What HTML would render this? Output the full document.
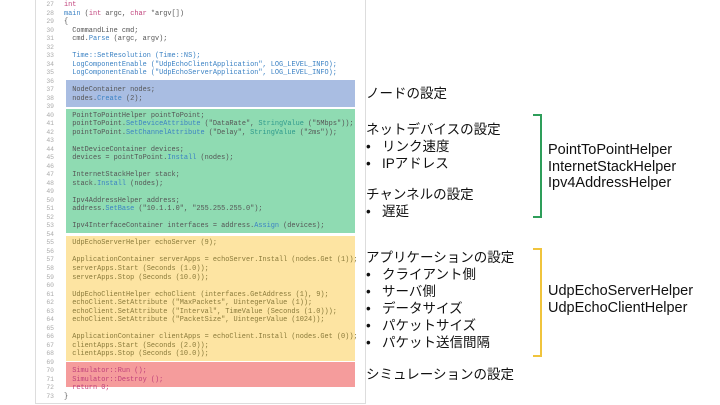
<!DOCTYPE html>
<html><head><meta charset="utf-8"><style>
body{margin:0;width:720px;height:405px;background:#fff;position:relative;overflow:hidden;font-family:"Liberation Sans","Noto Sans CJK JP",sans-serif}
.panel{position:absolute;left:35px;top:-2px;width:329px;height:404px;border:1px solid #ddd;background:#fff}
.box{position:absolute;left:66px;width:289px}
pre{position:absolute;margin:0;font-family:"Liberation Mono",monospace;font-size:6.9px;line-height:8.52px;color:#555;top:1px}
.ln{left:36px;width:18px;text-align:right;color:#aaa;font-size:6.4px}
.cd{left:64px}
.k{color:#c0407a}.m{color:#3b82c4}.t{color:#2e9a8c}.s{color:#8a7a3a}
.j{position:absolute;left:366px;font-size:13.5px;color:#111;white-space:nowrap;line-height:17px}
.h{position:absolute;left:548px;font-size:14.5px;color:#111;line-height:16.5px;white-space:nowrap}
.br{position:absolute;left:533px;width:7px;border:2px solid;border-left:none}
</style></head><body>
<div class="panel"></div>
<div class="box" style="top:80px;height:27px;background:#a9bde2"></div>
<div class="box" style="top:109px;height:124px;background:#8fdbb2"></div>
<div class="box" style="top:236px;height:125px;background:#fde4a2"></div>
<div class="box" style="top:362px;height:25px;background:#f59c9c"></div>
<pre class="ln">27
28
29
30
31
32
33
34
35
36
37
38
39
40
41
42
43
44
45
46
47
48
49
50
51
52
53
54
55
56
57
58
59
60
61
62
63
64
65
66
67
68
69
70
71
72
73</pre>
<pre class="cd"><span class="k">int</span>
<span class="m">main</span> (<span class="k">int</span> argc, <span class="k">char</span> *argv[])
{
  CommandLine cmd;
  cmd.<span class="m">Parse</span> (argc, argv);

  <span class="m">Time::SetResolution (Time::NS);</span>
  <span class="m">LogComponentEnable ("UdpEchoClientApplication", LOG_LEVEL_INFO);</span>
  <span class="m">LogComponentEnable ("UdpEchoServerApplication", LOG_LEVEL_INFO);</span>

  NodeContainer nodes;
  nodes.<span class="m">Create</span> (2);

  PointToPointHelper pointToPoint;
  pointToPoint.<span class="m">SetDeviceAttribute</span> ("DataRate", <span class="t">StringValue</span> ("5Mbps"));
  pointToPoint.<span class="m">SetChannelAttribute</span> ("Delay", <span class="t">StringValue</span> ("2ms"));

  NetDeviceContainer devices;
  devices = pointToPoint.<span class="m">Install</span> (nodes);

  InternetStackHelper stack;
  stack.<span class="m">Install</span> (nodes);

  Ipv4AddressHelper address;
  address.<span class="m">SetBase</span> ("10.1.1.0", "255.255.255.0");

  Ipv4InterfaceContainer interfaces = address.<span class="m">Assign</span> (devices);

  <span class="s">UdpEchoServerHelper echoServer (9);</span>
<span class="s">
  ApplicationContainer serverApps = echoServer.Install (nodes.Get (1));
  serverApps.Start (Seconds (1.0));
  serverApps.Stop (Seconds (10.0));

  UdpEchoClientHelper echoClient (interfaces.GetAddress (1), 9);
  echoClient.SetAttribute ("MaxPackets", UintegerValue (1));
  echoClient.SetAttribute ("Interval", TimeValue (Seconds (1.0)));
  echoClient.SetAttribute ("PacketSize", UintegerValue (1024));

  ApplicationContainer clientApps = echoClient.Install (nodes.Get (0));
  clientApps.Start (Seconds (2.0));
  clientApps.Stop (Seconds (10.0));</span>

  <span class="k">Simulator::Run ();
  Simulator::Destroy ();
  return 0;</span>
}</pre>
<div class="j" style="top:85px">ノードの設定</div>
<div class="j" style="top:121px">ネットデバイスの設定<br>•&nbsp;&nbsp;&nbsp;リンク速度<br>•&nbsp;&nbsp;&nbsp;IPアドレス</div>
<div class="j" style="top:186px">チャンネルの設定<br>•&nbsp;&nbsp;&nbsp;遅延</div>
<div class="j" style="top:249px">アプリケーションの設定<br>•&nbsp;&nbsp;&nbsp;クライアント側<br>•&nbsp;&nbsp;&nbsp;サーバ側<br>•&nbsp;&nbsp;&nbsp;データサイズ<br>•&nbsp;&nbsp;&nbsp;パケットサイズ<br>•&nbsp;&nbsp;&nbsp;パケット送信間隔</div>
<div class="j" style="top:366px">シミュレーションの設定</div>
<div class="br" style="top:114px;height:100px;border-color:#2e9e5a"></div>
<div class="br" style="top:248px;height:105px;border-color:#f0c43c"></div>
<div class="h" style="top:142px">PointToPointHelper<br>InternetStackHelper<br>Ipv4AddressHelper</div>
<div class="h" style="top:283px">UdpEchoServerHelper<br>UdpEchoClientHelper</div>
</body></html>
